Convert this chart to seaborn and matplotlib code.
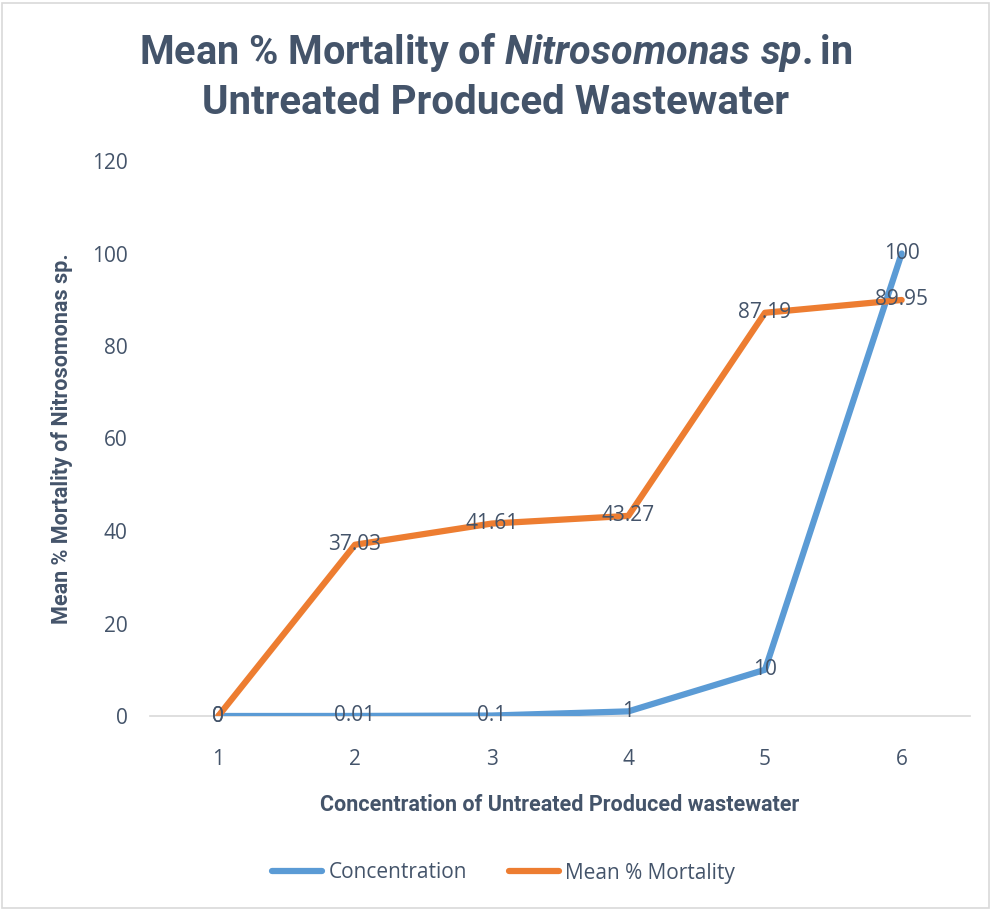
import matplotlib
matplotlib.use("Agg")
import matplotlib.pyplot as plt
import seaborn as sns
import pandas as pd
from matplotlib.patches import Rectangle
from matplotlib.lines import Line2D

categories = [1, 2, 3, 4, 5, 6]
concentration = [0, 0.01, 0.1, 1, 10, 100]
mortality = [0, 37.03, 41.61, 43.27, 87.19, 89.95]
conc_labels = ["0", "0.01", "0.1", "1", "10", "100"]
mort_labels = ["0", "37.03", "41.61", "43.27", "87.19", "89.95"]
y_ticks = [0, 20, 40, 60, 80, 100, 120]

sns.set_theme(style="white")
plt.rcParams['font.family'] = ['Open Sans', 'DejaVu Sans']
plt.rcParams['mathtext.fontset'] = 'custom'
plt.rcParams['mathtext.it'] = 'Roboto:italic:bold'
plt.rcParams['mathtext.rm'] = 'Roboto:bold'
plt.rcParams['mathtext.bf'] = 'Roboto:bold'

TXT = "#44546A"
BLUE = "#5B9BD5"
ORANGE = "#ED7D31"

df = pd.DataFrame({
    "x": categories * 2,
    "y": concentration + mortality,
    "series": ["Concentration"] * 6 + ["Mean % Mortality"] * 6,
})

fig = plt.figure(figsize=(9.91, 9.11), dpi=100)
ax = fig.add_axes([150/991, 1 - 716/911, 820/991, 555/911])

sns.lineplot(data=df, x="x", y="y", hue="series",
             palette={"Concentration": BLUE, "Mean % Mortality": ORANGE},
             linewidth=4.5, ax=ax, legend=False, sort=False)
for l in ax.lines:
    l.set_solid_capstyle("round")
    l.set_solid_joinstyle("round")

ax.set_xlim(0.5, 6.5)
ax.set_ylim(0, 120)
ax.set_xticks(categories)
ax.set_xticklabels([str(c) for c in categories])
ax.set_yticks(y_ticks)
ax.tick_params(axis="both", length=0, labelsize=15, labelcolor=TXT)
ax.tick_params(axis="x", pad=24)
ax.tick_params(axis="y", pad=16)
for s in ["top", "right", "left"]:
    ax.spines[s].set_visible(False)
ax.spines["bottom"].set_color("#D9D9D9")
ax.spines["bottom"].set_linewidth(1.2)
ax.spines["bottom"].set_zorder(0)

for x, y, t in zip(categories, concentration, conc_labels):
    ax.text(x, y, t, ha="center", va="center", fontsize=15, color=TXT, zorder=5)
for x, y, t in zip(categories, mortality, mort_labels):
    ax.text(x, y, t, ha="center", va="center", fontsize=15, color=TXT, zorder=5)

narrow = ['Roboto', 'DejaVu Sans']
ax.set_xlabel("Concentration of Untreated Produced wastewater", fontsize=15.5,
              fontweight="bold", color=TXT, family=narrow, labelpad=17)
ax.set_ylabel("Mean % Mortality of Nitrosomonas sp.", fontsize=15.5,
              fontweight="bold", color=TXT, family=narrow, labelpad=14)

fig.text(0.5, 1 - 52/911, "Mean % Mortality of $Nitrosomonas\\ sp.$in",
         ha="center", va="center", fontsize=28.5, fontweight="bold", color=TXT, family=narrow)
fig.text(0.5, 1 - 103/911, "Untreated Produced Wastewater",
         ha="center", va="center", fontsize=29, fontweight="bold", color=TXT, family=narrow)

handles = [Line2D([], [], color=BLUE, lw=4.5, solid_capstyle="round"),
           Line2D([], [], color=ORANGE, lw=4.5, solid_capstyle="round")]
fig.legend(handles, ["Concentration", "Mean % Mortality"], loc="center",
           bbox_to_anchor=(0.508, 1 - 873/911), ncol=2, frameon=False,
           fontsize=15, labelcolor=TXT, handlelength=2.4, handletextpad=0.3,
           columnspacing=2.0)

fig.patches.append(Rectangle((0.002, 0.003), 0.996, 0.994, transform=fig.transFigure,
                             fill=False, edgecolor="#D9D9D9", linewidth=1.2))

fig.savefig("out.png", dpi=100)
